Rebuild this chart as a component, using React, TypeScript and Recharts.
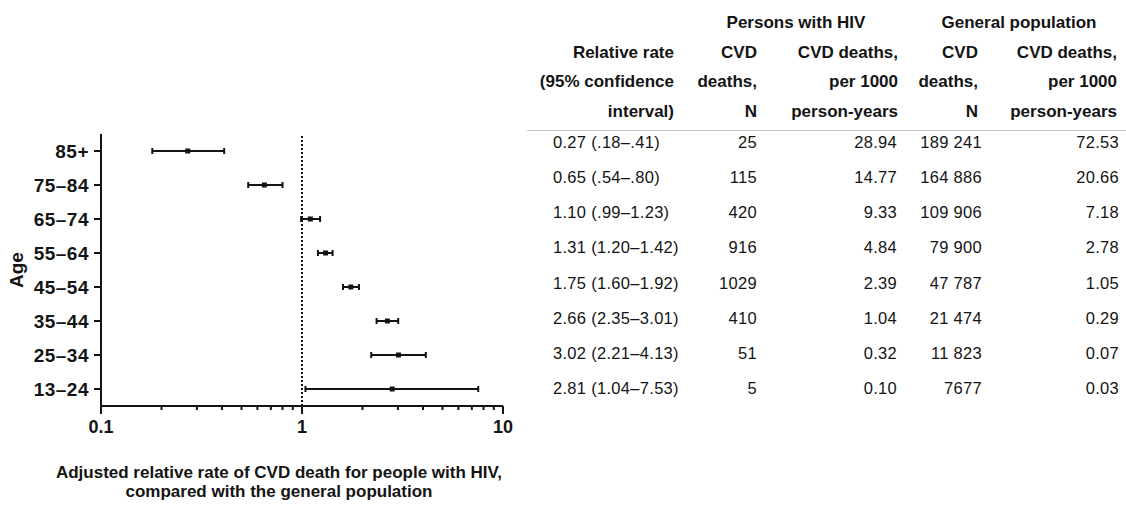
import React from 'react';
import { ScatterChart, Scatter, XAxis, YAxis, ErrorBar, ReferenceLine } from 'recharts';

// ---------- data ----------
const ages = ['85+', '75–84', '65–74', '55–64', '45–54', '35–44', '25–34', '13–24'];
const relRate = [0.27, 0.65, 1.1, 1.31, 1.75, 2.66, 3.02, 2.81];
const ciLow = [0.18, 0.54, 0.99, 1.2, 1.6, 2.35, 2.21, 1.04];
const ciHigh = [0.41, 0.8, 1.23, 1.42, 1.92, 3.01, 4.13, 7.53];
const hivDeaths = [25, 115, 420, 916, 1029, 410, 51, 5];
const hivRate = [28.94, 14.77, 9.33, 4.84, 2.39, 1.04, 0.32, 0.1];
const genDeaths = [189241, 164886, 109906, 79900, 47787, 21474, 11823, 7677];
const genRate = [72.53, 20.66, 7.18, 2.78, 1.05, 0.29, 0.07, 0.03];

const xTicks = [0.1, 0.2, 0.3, 0.4, 0.5, 0.6, 0.7, 0.8, 0.9, 1, 2, 3, 4, 5, 6, 7, 8, 9, 10];
const majorTicks = [0.1, 1, 10];
const majorTickLabels = ['0.1', '1', '10'];

const xTitleLines = [
  'Adjusted relative rate of CVD death for people with HIV,',
  'compared with the general population',
];
const yTitle = 'Age';

const groupHeaders = ['Persons with HIV', 'General population'];
const colHeaders = [
  ['Relative rate', '(95% confidence', 'interval)'],
  ['CVD', 'deaths,', 'N'],
  ['CVD deaths,', 'per 1000', 'person-years'],
  ['CVD', 'deaths,', 'N'],
  ['CVD deaths,', 'per 1000', 'person-years'],
];

const data = ages.map((age, i) => ({
  age,
  rr: relRate[i],
  err: [relRate[i] - ciLow[i], ciHigh[i] - relRate[i]],
}));

// ---------- formatting ----------
const ciFmt = (v: number) => {
  const s = v.toFixed(2);
  return v < 1 ? s.replace(/^0/, '') : s;
};
const rrText = (i: number) => `${relRate[i].toFixed(2)} (${ciFmt(ciLow[i])}–${ciFmt(ciHigh[i])})`;
const thousands = (n: number) => (n >= 10000 ? n.toString().replace(/\B(?=(\d{3})+(?!\d))/g, ' ') : n.toString());

const FONT = '"Liberation Sans", Arial, Helvetica, sans-serif';
const INK = '#141414';

const XTick = (props: any) => {
  const { x, y, payload } = props;
  const v = payload.value;
  const idx = majorTicks.findIndex((m) => Math.abs(m - v) < 1e-9);
  const major = idx >= 0;
  return (
    <g>
      <line x1={x} x2={x} y1={y} y2={y + (major ? 8 : 4)} stroke={INK} strokeWidth={2} />
      {major && (
        <text
          x={x}
          y={y + 27}
          textAnchor="middle"
          fontFamily={FONT}
          fontWeight="bold"
          fontSize={18}
          fill={INK}
        >
          {majorTickLabels[idx]}
        </text>
      )}
    </g>
  );
};

const Marker = (props: any) => {
  const { cx, cy } = props;
  return <rect x={cx - 2.5} y={cy - 2.5} width={5} height={5} fill={INK} />;
};

const abs = (extra: React.CSSProperties): React.CSSProperties => ({
  position: 'absolute',
  whiteSpace: 'nowrap',
  lineHeight: '20px',
  height: 20,
  ...extra,
});

// table layout (pixels)
const headerRowY = [53, 82, 112];
const headerRight = [674, 757, 898, 978, 1117];
const dataRight = [0, 757, 897, 982, 1119];
const col1Left = 553;
const rowY0 = 142;
const rowStep = 35.15;

export default function App() {
  const headerStyle = { fontWeight: 'bold' as const, fontSize: 17 };
  const dataStyle = { fontSize: 16.5, letterSpacing: '0.3px' };
  const cells: React.ReactNode[] = [];

  // group headers
  cells.push(
    <div key="g0" style={abs({ left: 796, top: 23 - 10, transform: 'translateX(-50%)', ...headerStyle })}>
      {groupHeaders[0]}
    </div>
  );
  cells.push(
    <div key="g1" style={abs({ left: 1019, top: 23 - 10, transform: 'translateX(-50%)', ...headerStyle })}>
      {groupHeaders[1]}
    </div>
  );
  colHeaders.forEach((lines, c) =>
    lines.forEach((t, r) =>
      cells.push(
        <div
          key={`h${c}-${r}`}
          style={abs({ right: 1126 - headerRight[c], top: headerRowY[r] - 10, textAlign: 'right', ...headerStyle })}
        >
          {t}
        </div>
      )
    )
  );
  ages.forEach((_, i) => {
    const top = rowY0 + i * rowStep - 10;
    cells.push(
      <div key={`d0-${i}`} style={abs({ left: col1Left, top, ...dataStyle })}>
        {rrText(i)}
      </div>
    );
    const vals = [hivDeaths[i].toString(), hivRate[i].toFixed(2), thousands(genDeaths[i]), genRate[i].toFixed(2)];
    vals.forEach((v, k) =>
      cells.push(
        <div key={`d${k + 1}-${i}`} style={abs({ right: 1126 - dataRight[k + 1], top, textAlign: 'right', ...dataStyle })}>
          {v}
        </div>
      )
    );
  });

  return (
    <div
      style={{
        position: 'absolute',
        left: 0,
        top: 0,
        width: 1126,
        height: 509,
        background: '#fff',
        fontFamily: FONT,
        color: INK,
        overflow: 'hidden',
      }}
    >
      <div style={{ position: 'absolute', left: 0, top: 0 }}>
        <ScatterChart width={530} height={509} margin={{ top: 134, right: 27, bottom: 73, left: 0 }}>
          <XAxis
            type="number"
            dataKey="rr"
            scale="log"
            domain={[0.1, 10]}
            allowDataOverflow
            ticks={xTicks}
            interval={0}
            tick={<XTick />}
            tickLine={false}
            tickSize={0}
            tickMargin={0}
            height={30}
            axisLine={{ stroke: INK, strokeWidth: 2 }}
          />
          <YAxis
            type="category"
            dataKey="age"
            reversed
            width={101}
            tickSize={7}
            tickMargin={5}
            interval={0}
            axisLine={{ stroke: INK, strokeWidth: 2 }}
            tickLine={{ stroke: INK, strokeWidth: 2 }}
            tick={{ fill: INK, fontSize: 19, fontWeight: 'bold', fontFamily: FONT, letterSpacing: 0.5 } as any}
          />
          <ReferenceLine x={1} stroke={INK} strokeWidth={2} strokeDasharray="2 2" />
          <Scatter data={data} shape={<Marker />} isAnimationActive={false}>
            <ErrorBar dataKey="err" direction="x" width={3} stroke={INK} strokeWidth={2} isAnimationActive={false} />
          </Scatter>
        </ScatterChart>
      </div>

      <div
        style={{
          position: 'absolute',
          left: 17,
          top: 270,
          transform: 'translate(-50%, -50%) rotate(-90deg)',
          fontWeight: 'bold',
          fontSize: 19,
          whiteSpace: 'nowrap',
        }}
      >
        {yTitle}
      </div>

      {xTitleLines.map((t, i) => (
        <div
          key={t}
          style={abs({
            left: 279,
            top: 473 + i * 19 - 10,
            transform: 'translateX(-50%)',
            fontWeight: 'bold',
            fontSize: 17,
            textAlign: 'center',
          })}
        >
          {t}
        </div>
      ))}

      <div style={{ position: 'absolute', left: 527, top: 130, width: 599, height: 1, background: '#c8c8c8' }} />

      {cells}
    </div>
  );
}
